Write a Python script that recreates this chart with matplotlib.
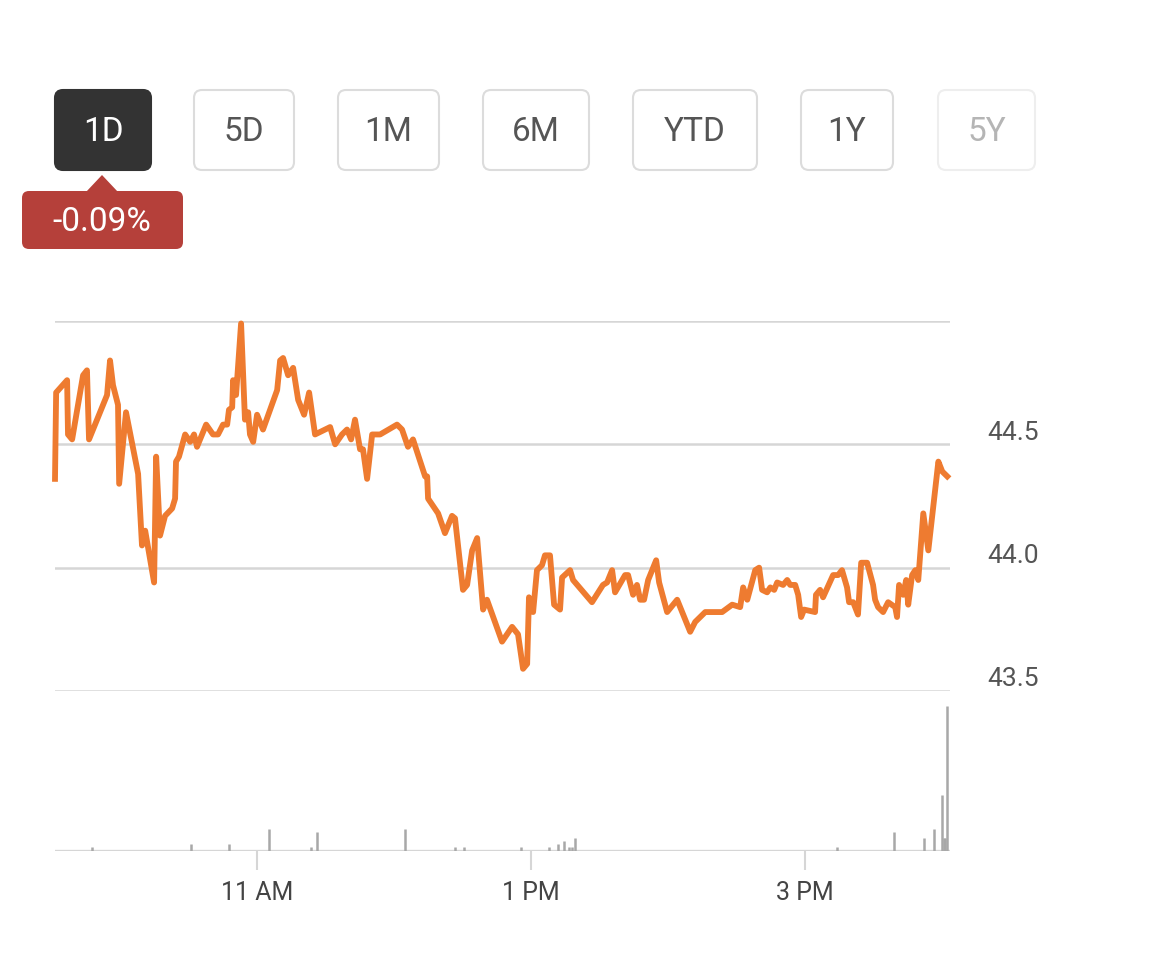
"""
Intraday 1D price chart with volume bars and range buttons.
"""
import matplotlib
matplotlib.use("Agg")
import matplotlib.pyplot as plt
from matplotlib.patches import FancyBboxPatch, Polygon
from matplotlib.transforms import ScaledTranslation

plt.rcParams["font.family"] = ["Roboto", "DejaVu Sans"]

# minutes after 9:30 open, price in $
minutes = [1.5, 2.0, 6.8, 7.2, 9.0, 13.8, 15.5, 16.4, 24.3, 25.6, 26.9, 29.1, 29.6,
           32.6, 37.9, 39.6, 41.0, 44.9, 45.8, 47.5, 49.7, 52.8, 54.1, 54.5, 55.8,
           58.5, 60.7, 62.4, 63.7, 67.7, 70.7, 72.9, 75.1, 76.9, 77.7, 79.1, 79.5,
           80.8, 83.0, 84.7, 86.1, 86.9, 88.3, 90.0, 92.6, 98.8, 100.1, 101.4, 103.6,
           105.8, 108.0, 110.6, 112.8, 115.4, 122.0, 124.2, 127.2, 129.4, 131.2,
           132.9, 135.1, 136.4, 138.2, 140.4, 143.9, 151.3, 153.5, 156.1, 158.3,
           163.6, 164.5, 164.9, 169.3, 172.3, 175.4, 176.7, 180.2, 182.0, 184.2,
           186.4, 189.0, 190.7, 197.3, 201.7, 204.3, 206.5, 208.3, 209.1, 210.9,
           212.6, 214.8, 216.1, 218.3, 220.1, 222.7, 223.6, 227.1, 228.4, 236.7,
           241.5, 243.3, 245.5, 246.8, 251.2, 252.5, 254.7, 256.4, 257.8, 259.5,
           261.3, 264.8, 266.1, 269.6, 274.0, 279.7, 281.9, 286.3, 293.7, 298.1,
           301.6, 302.9, 304.7, 308.2, 309.9, 311.2, 313.4, 314.8, 316.5, 317.8,
           320.4, 322.2, 323.5, 325.7, 327.0, 328.3, 329.6, 334.4, 334.8, 336.6,
           337.9, 342.3, 344.5, 346.2, 348.4, 349.3, 351.1, 353.2, 354.6, 357.2,
           359.8, 360.7, 362.0, 364.2, 366.4, 369.5, 370.3, 371.2, 373.0, 374.3,
           375.2, 376.9, 378.3, 379.6, 381.8, 384.0, 388.4, 390.1, 392.3]
price = [44.36, 44.71, 44.76, 44.54, 44.52, 44.78, 44.80, 44.52, 44.70, 44.84, 44.74,
         44.66, 44.34, 44.63, 44.38, 44.09, 44.15, 43.94, 44.45, 44.13, 44.21, 44.24,
         44.28, 44.43, 44.45, 44.54, 44.51, 44.54, 44.49, 44.58, 44.54, 44.54, 44.58,
         44.58, 44.64, 44.65, 44.76, 44.70, 44.99, 44.60, 44.63, 44.54, 44.51, 44.62,
         44.56, 44.72, 44.84, 44.85, 44.78, 44.81, 44.68, 44.62, 44.71, 44.54, 44.57,
         44.50, 44.54, 44.56, 44.52, 44.60, 44.48, 44.48, 44.36, 44.54, 44.54, 44.58,
         44.56, 44.49, 44.52, 44.37, 44.37, 44.28, 44.22, 44.14, 44.21, 44.20, 43.91,
         43.93, 44.07, 44.12, 43.83, 43.87, 43.70, 43.76, 43.73, 43.59, 43.61, 43.88,
         43.82, 43.99, 44.01, 44.05, 44.05, 43.85, 43.83, 43.96, 43.99, 43.95, 43.86,
         43.93, 43.94, 43.99, 43.90, 43.97, 43.97, 43.89, 43.93, 43.87, 43.87, 43.95,
         44.03, 43.94, 43.82, 43.87, 43.74, 43.78, 43.82, 43.82, 43.85, 43.84, 43.92,
         43.87, 43.99, 44.00, 43.91, 43.90, 43.92, 43.91, 43.94, 43.93, 43.95, 43.93,
         43.93, 43.89, 43.80, 43.83, 43.82, 43.89, 43.91, 43.88, 43.97, 43.97, 43.99,
         43.92, 43.86, 43.86, 43.81, 44.02, 44.02, 43.93, 43.87, 43.84, 43.82, 43.86,
         43.84, 43.80, 43.93, 43.89, 43.95, 43.85, 43.97, 43.99, 43.95, 44.22, 44.07,
         44.43, 44.39, 44.37]

# volume prints (thousands of shares)
vol_minutes = [17.7, 61.1, 77.7, 95.3, 113.7, 116.3, 154.8, 176.7, 180.7, 205.6, 217.9,
               221.8, 224.5, 226.7, 228.0, 229.3, 344.1, 369.1, 382.2, 386.5, 390.0,
               390.9, 391.3, 392.0]
volume = [4, 7, 7, 22, 4, 19, 22, 4, 4, 4, 4, 7, 10, 4, 4, 13, 4, 19, 13, 22, 56, 13,
          13, 145]

tick_minutes = [90, 210, 330]
tick_labels = ["11 AM", "1 PM", "3 PM"]
price_ticks = [43.5, 44.0, 44.5, 45.0]
price_labels = ["43.5", "44.0", "44.5", ""]

ranges = ["1D", "5D", "1M", "6M", "YTD", "1Y", "5Y"]
change_text = "-0.09%"

ORANGE = "#ee7b30"
GRID = "#d6d6d6"
W, H = 1170, 970
T0, T1 = 1.5, 393.5

fig = plt.figure(figsize=(W / 100, H / 100), dpi=100)
fig.patch.set_facecolor("white")

# price panel
ax = fig.add_axes([55 / W, (H - 692) / H, 895 / W, 370 / H])
ax.set_xlim(T0, T1)
ax.set_ylim(43.5, 45.0)
ax.plot(minutes, price, color=ORANGE, lw=4.2, solid_joinstyle="round",
        clip_on=False, zorder=3)
ax.set_yticks(price_ticks)
ax.set_yticklabels(price_labels)
ax.yaxis.tick_right()
ax.tick_params(axis="y", length=0, pad=27, labelsize=19, labelcolor="#555555")
for lab in ax.get_yticklabels():
    lab.set_transform(lab.get_transform() + ScaledTranslation(0, 15 / 100, fig.dpi_scale_trans))
ax.set_xticks([])
ax.grid(axis="y", color=GRID, lw=1.8)
for s in ax.spines.values():
    s.set_visible(False)
ax.set_facecolor("none")

# volume panel
vax = fig.add_axes([55 / W, (H - 852) / H, 895 / W, 145 / H])
vax.set_xlim(T0, T1)
vax.set_ylim(0, max(volume))
vax.vlines(vol_minutes, 0, volume, color="#a8a8a8", lw=1.8)
vax.axhline(0, color=GRID, lw=2.4, zorder=0)
vax.set_xticks(tick_minutes)
vax.set_xticklabels(tick_labels)
vax.tick_params(axis="x", length=14, width=1.5, color=GRID, pad=7,
                labelsize=18, labelcolor="#444444")
vax.set_yticks([])
for s in vax.spines.values():
    s.set_visible(False)
vax.set_facecolor("none")

# range buttons + change badge, in pixel space
ui = fig.add_axes([0, 0, 1, 1])
ui.set_xlim(0, W)
ui.set_ylim(H, 0)
ui.axis("off")
ui.set_facecolor("none")

boxes = [(55, 151), (194, 294), (338, 439), (483, 589), (633, 757), (801, 893), (938, 1035)]
for i, (lbl, (x0, x1)) in enumerate(zip(ranges, boxes)):
    if i == 0:
        fc, ec, tc = "#333333", "#333333", "white"
    elif lbl == "5Y":
        fc, ec, tc = "white", "#eeeeee", "#b5b5b5"
    else:
        fc, ec, tc = "white", "#dcdcdc", "#555555"
    ui.add_patch(FancyBboxPatch((x0, 91), x1 - x0, 80,
                                boxstyle="round,pad=0,rounding_size=8",
                                fc=fc, ec=ec, lw=1.5))
    ui.text((x0 + x1) / 2, 132, lbl, ha="center", va="center", fontsize=24, color=tc)

BADGE = "#b5403a"
ui.add_patch(FancyBboxPatch((22, 192), 161, 58, boxstyle="round,pad=0,rounding_size=7",
                            fc=BADGE, ec="none"))
ui.add_patch(Polygon([(86, 193), (102, 176), (118, 193)], closed=True, fc=BADGE, ec="none"))
ui.text(102, 222, change_text, ha="center", va="center", fontsize=24, color="white")

fig.savefig("out.png", dpi=100, facecolor="white")
